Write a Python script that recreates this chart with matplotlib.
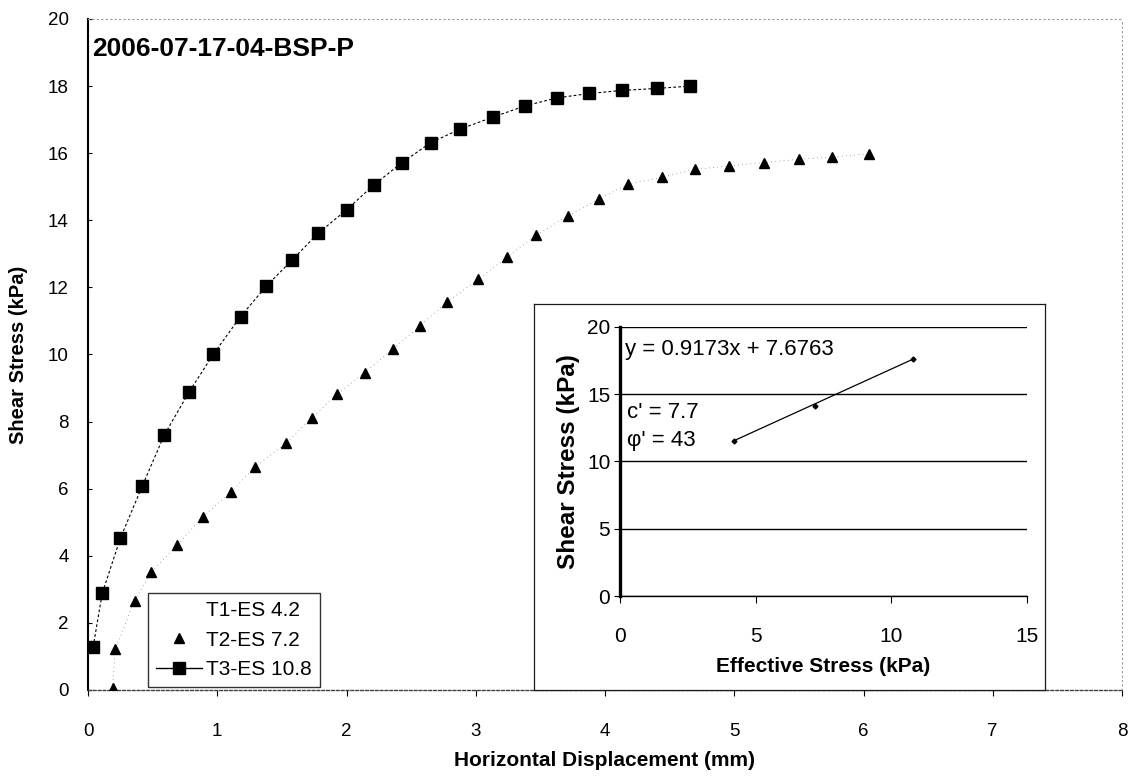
import matplotlib
matplotlib.use("Agg")
import matplotlib.pyplot as plt
from matplotlib.lines import Line2D

plt.rcParams['font.family'] = ['Liberation Sans', 'DejaVu Sans']

# Direct shear test, sample 2006-07-17-04-BSP-P
sample_id = '2006-07-17-04-BSP-P'
series_labels = ['T1-ES 4.2', 'T2-ES 7.2', 'T3-ES 10.8']

# T2 (effective stress 7.2 kPa)
t2_disp = [0.19, 0.21, 0.36, 0.49, 0.69, 0.89, 1.11, 1.29, 1.53, 1.73, 1.93,
           2.14, 2.36, 2.57, 2.78, 3.02, 3.24, 3.47, 3.71, 3.95, 4.18, 4.44,
           4.70, 4.96, 5.23, 5.50, 5.76, 6.04]
t2_shear = [0.05, 1.21, 2.66, 3.51, 4.32, 5.17, 5.91, 6.64, 7.35, 8.10, 8.82,
            9.46, 10.16, 10.86, 11.57, 12.24, 12.90, 13.56, 14.13, 14.63, 15.08,
            15.28, 15.52, 15.62, 15.72, 15.82, 15.89, 15.98]

# T3 (effective stress 10.8 kPa)
t3_disp = [0.04, 0.11, 0.25, 0.42, 0.59, 0.78, 0.97, 1.18, 1.38, 1.58, 1.78,
           2.00, 2.21, 2.43, 2.65, 2.88, 3.13, 3.38, 3.63, 3.88, 4.13, 4.40, 4.66]
t3_shear = [1.29, 2.88, 4.52, 6.08, 7.60, 8.87, 10.01, 11.13, 12.04, 12.82, 13.61,
            14.31, 15.05, 15.72, 16.31, 16.72, 17.07, 17.41, 17.65, 17.78, 17.87,
            17.93, 18.00]

# Failure envelope (peak shear stress vs effective normal stress)
env_sigma = [4.2, 7.2, 10.8]
env_tau = [11.5, 14.1, 17.6]
fit_slope = 0.9173
fit_intercept = 7.6763
cohesion = 7.7
friction_angle = 43

W, H = 1136, 784
fig = plt.figure(figsize=(W / 100, H / 100), dpi=100)


def fig_rect(x0, y0, x1, y1):
    return [x0 / W, 1 - y1 / H, (x1 - x0) / W, (y1 - y0) / H]


# ---- main axes ----
ax = fig.add_axes(fig_rect(88, 19, 1122, 690))
ax.set_xlim(0, 8)
ax.set_ylim(0, 20)
ax.set_xticks(range(0, 9))
ax.set_yticks(range(0, 21, 2))

ax.plot(t3_disp, t3_shear, color='black', lw=0.8, ls=(0, (2.5, 2)),
        marker='s', ms=8.5, mfc='black', mec='black', zorder=3)
ax.plot(t2_disp, t2_shear, color='0.35', lw=0.5, ls=(0, (1, 5)),
        marker='^', ms=6.5, mfc='black', mec='black', zorder=3)

for side in ('top', 'right'):
    ax.spines[side].set_color('0.6')
    ax.spines[side].set_linewidth(0.8)
    ax.spines[side].set_linestyle((0, (1, 3)))
ax.spines['left'].set_linewidth(1.5)
ax.spines['bottom'].set_color('0.25')
ax.spines['bottom'].set_linewidth(1.0)
ax.spines['bottom'].set_linestyle((0, (2, 1.5)))

ax.tick_params(axis='y', direction='in', length=3, width=0.8, pad=14, labelsize=13.5)
ax.tick_params(axis='x', direction='out', length=4, width=0.8, pad=20, labelsize=13.5)

ax.set_xlabel('Horizontal Displacement (mm)', fontsize=15, fontweight='bold',
              labelpad=8)
ax.set_ylabel('Shear Stress (kPa)', fontsize=14.5, fontweight='bold',
              labelpad=14)

ax.text(0.004, 0.955, sample_id, transform=ax.transAxes, fontsize=19,
        fontweight='bold', ha='left', va='center')

handles = [
    Line2D([], [], ls='none', marker=''),
    Line2D([], [], ls='none', marker='^', ms=6.5, mfc='black', mec='black'),
    Line2D([], [], color='black', lw=1, marker='s', ms=8.5, mfc='black', mec='black'),
]
leg = ax.legend(handles, series_labels, loc='lower left',
                bbox_to_anchor=(0.058, 0.004), borderaxespad=0, fontsize=15,
                frameon=True, fancybox=False, handlelength=2.2,
                handletextpad=0.2, labelspacing=0.5, borderpad=0.4,
                markerfirst=True)
leg.get_frame().set_edgecolor('black')
leg.get_frame().set_linewidth(1.0)

# ---- inset: failure envelope ----
frame = fig.add_axes(fig_rect(534, 304, 1045, 690))
frame.set_xticks([])
frame.set_yticks([])
frame.set_facecolor('white')
for s in frame.spines.values():
    s.set_linewidth(0.9)
    s.set_color('0.1')

ins = fig.add_axes(fig_rect(620, 326.7, 1026.7, 596))
ins.set_xlim(0, 15)
ins.set_ylim(0, 20)
ins.set_xticks([0, 5, 10, 15])
ins.set_yticks([0, 5, 10, 15, 20])
ins.set_facecolor('none')
ins.grid(axis='y', color='black', lw=1.0)
ins.set_axisbelow(True)
ins.spines['top'].set_visible(False)
ins.spines['right'].set_visible(False)
ins.spines['left'].set_linewidth(2.4)
ins.spines['bottom'].set_linewidth(1.0)
ins.tick_params(axis='y', direction='out', length=4, width=0.8, pad=3, labelsize=15)
ins.tick_params(axis='x', direction='out', length=5, width=0.8, pad=17, labelsize=15)

fit_x = [min(env_sigma), max(env_sigma)]
fit_y = [fit_slope * v + fit_intercept for v in fit_x]
ins.plot(fit_x, fit_y, color='black', lw=0.9, zorder=3)
ins.plot(env_sigma, env_tau, ls='none', marker='D', ms=2.5, color='black', zorder=4)

ins.set_xlabel('Effective Stress (kPa)', fontsize=15, fontweight='bold', labelpad=8)
ins.set_ylabel('Shear Stress (kPa)', fontsize=17.5, fontweight='bold', labelpad=5)

ins.text(0.18, 18.3, f'y = {fit_slope}x + {fit_intercept}', fontsize=16,
         ha='left', va='center')
ins.text(0.25, 13.65, f"c' = {cohesion}", fontsize=16, ha='left', va='center')
ins.text(0.25, 11.55, f"\u03c6' = {friction_angle}", fontsize=16, ha='left', va='center')

fig.savefig('out.png', dpi=100)
